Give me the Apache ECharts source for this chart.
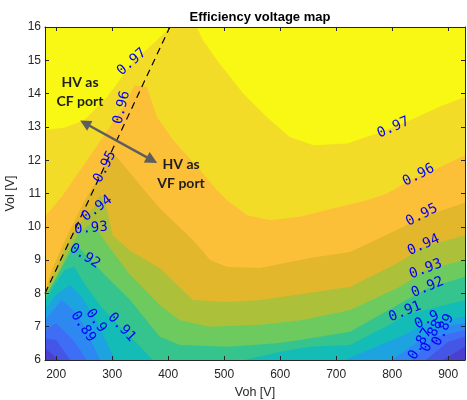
<!DOCTYPE html>
<html><head><meta charset="utf-8">
<script src="https://cdn.jsdelivr.net/npm/echarts@6/dist/echarts.min.js"></script>
<style>html,body{margin:0;padding:0;background:#fff}#c{width:467px;height:400px}</style>
</head><body><div id="c"></div>
<script>
// axes
const xMin = 180, xMax = 930, yMin = 6, yMax = 16;
const xTicks = [200, 300, 400, 500, 600, 700, 800, 900];
const yTicks = [6, 7, 8, 9, 10, 11, 12, 13, 14, 15, 16];

// contour levels (efficiency)
const levels = [0.86, 0.87, 0.88, 0.89, 0.90, 0.91, 0.92, 0.93, 0.94, 0.95, 0.96, 0.97];

// contour lines, [Voh, Vol]
const c097a = [[180,12.9],[215,12.98],[250,13.2],[291,13.9],[337,14.95],[380,15.6],[403,16]];
const c097b = [[451,16],[462,15.6],[492,14.9],[534,14.0],[576,13.3],[617,12.7],[659,12.45],[719,12.5],[773,12.8],[832,13.2],[891,13.65],[930,13.9]];
const c096 = [[180,10.3],[210,10.9],[255,12.0],[300,13.1],[322,13.65],[340,14.25],[362,14.2],[370,13.8],[380,13.3],[409,12.6],[457,11.7],[487,11.1],[505,10.8],[541,10.35],[582,10.2],[635,10.3],[694,10.55],[755,10.8],[791,11.0],[832,11.4],[880,11.75],[930,12.15]];
const c095 = [[180,8.1],[192,8.7],[216,9.6],[251,10.8],[273,11.4],[287,11.85],[296,12.24],[310,12.06],[350,11.25],[385,10.56],[444,9.6],[475,9.0],[505,8.79],[564,8.76],[653,9.06],[725,9.24],[814,9.95],[853,10.3],[890,10.5],[930,10.72]];
const c094 = [[180,8.04],[196,8.6],[214,9.3],[241,10.1],[268,10.6],[278,10.95],[287,10.8],[301,9.75],[330,9.3],[385,8.76],[444,7.8],[505,7.74],[564,7.8],[645,8.0],[725,8.2],[814,8.95],[856,9.4],[930,9.75]];
const c093 = [[180,7.95],[200,8.5],[220,9.2],[240,9.8],[257,10.05],[272,9.95],[290,9.5],[330,8.6],[385,7.65],[420,7.2],[474,7.0],[564,7.06],[640,7.2],[725,7.5],[814,8.2],[860,8.7],[930,9.0]];
const c092 = [[180,7.86],[203,8.55],[234,9.5],[253,9.15],[287,8.55],[332,7.8],[385,6.7],[421,6.45],[505,6.4],[594,6.5],[635,6.6],[725,6.85],[814,7.7],[863,8.15],[930,8.5]];
const c091L = [[180,7.74],[195,8.2],[215,8.7],[232,8.8],[250,8.3],[280,7.6],[317,6.96],[350,6.4],[372,6.0]];
const c091R = [[537,6.0],[600,6.25],[653,6.4],[725,6.45],[800,7.1],[823,7.35],[930,7.8]];
const c090L = [[180,7.5],[200,7.95],[225,8.25],[245,7.9],[271,7.2],[305,6.0]];
const c090R = [[716,6.0],[814,6.7],[862,7.1],[930,7.3]];
const c089L = [[180,7.2],[210,7.8],[230,7.5],[251,7.0],[278,6.0]];
const c089R = [[800,6.0],[850,6.6],[890,7.0],[930,7.1]];
const c088L = [[180,6.9],[200,7.1],[230,6.6],[255,6.0]];
const c088R = [[835,6.0],[880,6.7],[930,6.9]];
const c087L = [[180,6.65],[200,6.6],[225,6.0]];
const c087R = [[860,6.0],[900,6.55],[930,6.7]];
const c086L = [[180,6.35],[205,6.0]];
const c086R = [[890,6.0],[930,6.4]];

// contour labels
const labVoh  = [335, 317, 287, 273, 262, 251, 248, 271, 317, 802, 847, 853, 856, 860, 863, 823, 862, 891, 871, 850];
const labVol  = [14.95, 13.58, 11.8, 10.55, 9.95, 9.12, 7.0, 7.18, 6.98, 12.98, 11.55, 10.35, 9.45, 8.73, 8.18, 7.45, 7.2, 6.9, 6.72, 6.48];
const labText = ['0.97','0.96','0.95','0.94','0.93','0.92','0.89','0.9','0.91','0.97','0.96','0.95','0.94','0.93','0.92','0.91','0.9','0.89','0.88','0.87'];
const labAngle= [41, 76, 63, 37, 5, -33, -56, -55, -47, 24, 27, 27, 24, 21, 23, 22, 25, 65, 65, 60];

// boundary guide and annotation
const guideLine = [[180, 8], [403, 16]];
const arrowEnds = [[251.4, 13.11], [371, 12.0]];
const noteVoh = [242.5, 423];
const noteVol = [14.04, 11.58];
const noteText = ['HV as\nCF port', 'HV as\nVF port'];

const bgColor = '#4A3FCF';
const bandColors = ['#4555E6','#3E6EF5','#2E88F2','#1CA3E0','#13BCB7','#35C38E','#6DCA5F','#ADC03A','#E2B72B','#FCBF38','#F3DC27','#F8F814'];

const pieces = [
  [c086L, c086R], [c087L, c087R], [c088L, c088R], [c089L, c089R], [c090L, c090R], [c091L, c091R],
  [c092], [c093], [c094], [c095], [c096]
];
const polys = [];
pieces.forEach((p, i) => {
  const pts = [].concat(...p, [[xMax, yMax], [xMin, yMax]]);
  polys.push({pts, color: bandColors[i]});
});
polys.push({pts: c097a.concat([[xMin, yMax]]), color: bandColors[11]});
polys.push({pts: c097b.concat([[xMax, yMax]]), color: bandColors[11]});

const axisCol = '#262626';
const tickFont = {fontFamily: 'Liberation Sans', fontSize: 12, color: axisCol};

const chart = echarts.init(document.getElementById('c'), null, {renderer: 'canvas'});
chart.setOption({
  animation: false,
  title: {
    text: 'Efficiency voltage map', left: 255, top: 6, textAlign: 'center',
    textStyle: {fontFamily: 'Liberation Sans', fontSize: 13, fontWeight: 'bold', color: '#000'}
  },
  grid: {left: 45, right: 2, top: 27, bottom: 40, show: true, backgroundColor: bgColor, borderWidth: 0,
         containLabel: false, outerBoundsMode: 'none'},
  xAxis: [{
    type: 'value', min: xMin, max: xMax, z: 10,
    name: 'Voh [V]', nameLocation: 'middle', nameGap: 25,
    nameTextStyle: {fontFamily: 'Liberation Sans', fontSize: 12.5, color: axisCol},
    axisLine: {show: true, lineStyle: {color: axisCol, width: 1}},
    axisTick: {show: true, inside: true, length: 4, customValues: xTicks, lineStyle: {color: axisCol}},
    axisLabel: Object.assign({margin: 9, customValues: xTicks}, tickFont),
    splitLine: {show: false}
  }, {
    type: 'value', min: xMin, max: xMax, z: 10, position: 'top',
    axisLine: {show: true, onZero: false, lineStyle: {color: axisCol, width: 1}},
    axisTick: {show: true, inside: true, length: 4, customValues: xTicks, lineStyle: {color: axisCol}},
    axisLabel: {show: false}, splitLine: {show: false}
  }],
  yAxis: [{
    type: 'value', min: yMin, max: yMax, interval: 1, z: 10,
    name: 'Vol [V]', nameLocation: 'middle', nameGap: 20,
    nameTextStyle: {fontFamily: 'Liberation Sans', fontSize: 12.5, color: axisCol},
    axisLine: {show: true, lineStyle: {color: axisCol, width: 1}},
    axisTick: {show: true, inside: true, length: 4, lineStyle: {color: axisCol}},
    axisLabel: Object.assign({margin: 4, customValues: yTicks}, tickFont),
    splitLine: {show: false}
  }, {
    type: 'value', min: yMin, max: yMax, interval: 1, z: 10, position: 'right',
    axisLine: {show: true, onZero: false, lineStyle: {color: axisCol, width: 1}},
    axisTick: {show: true, inside: true, length: 4, lineStyle: {color: axisCol}},
    axisLabel: {show: false}, splitLine: {show: false}
  }],
  series: [{
    type: 'custom', clip: true, z: 2,
    data: polys.map((p, i) => [xMin, yMin, i]),
    renderItem: function (params, api) {
      const poly = polys[params.dataIndex];
      return {type: 'polygon', shape: {points: poly.pts.map(p => api.coord(p))}, style: {fill: poly.color, stroke: null}};
    }
  }, {
    type: 'line', z: 4, data: guideLine, symbol: 'none',
    lineStyle: {color: '#000', width: 1.2, type: [7, 5]}
  }, {
    type: 'lines', coordinateSystem: 'cartesian2d', z: 5,
    symbol: ['triangle', 'triangle'], symbolSize: [11, 12],
    lineStyle: {color: '#5E5E5E', width: 2.5, opacity: 1},
    itemStyle: {color: '#5E5E5E'},
    data: [{coords: arrowEnds}]
  }, {
    type: 'custom', z: 6,
    data: labVoh.map((v, i) => [v, labVol[i], i]),
    renderItem: function (params, api) {
      const i = params.dataIndex;
      const pt = api.coord([labVoh[i], labVol[i]]);
      return {type: 'text', x: pt[0], y: pt[1], rotation: labAngle[i] * Math.PI / 180,
        style: {text: labText[i], x: 0, y: 0, fill: '#0000FF', font: '14px "DejaVu Sans Mono"', align: 'center', verticalAlign: 'middle'}};
    }
  }, {
    type: 'custom', z: 7,
    data: noteVoh.map((v, i) => [v, noteVol[i], i]),
    renderItem: function (params, api) {
      const i = params.dataIndex;
      const pt = api.coord([noteVoh[i], noteVol[i]]);
      return {type: 'text', x: pt[0], y: pt[1],
        style: {text: noteText[i], x: 0, y: 0, fill: '#1E1E1E', font: 'bold 14px Lato', align: 'center', verticalAlign: 'middle', lineHeight: 19}};
    }
  }]
});
</script>
</body></html>
